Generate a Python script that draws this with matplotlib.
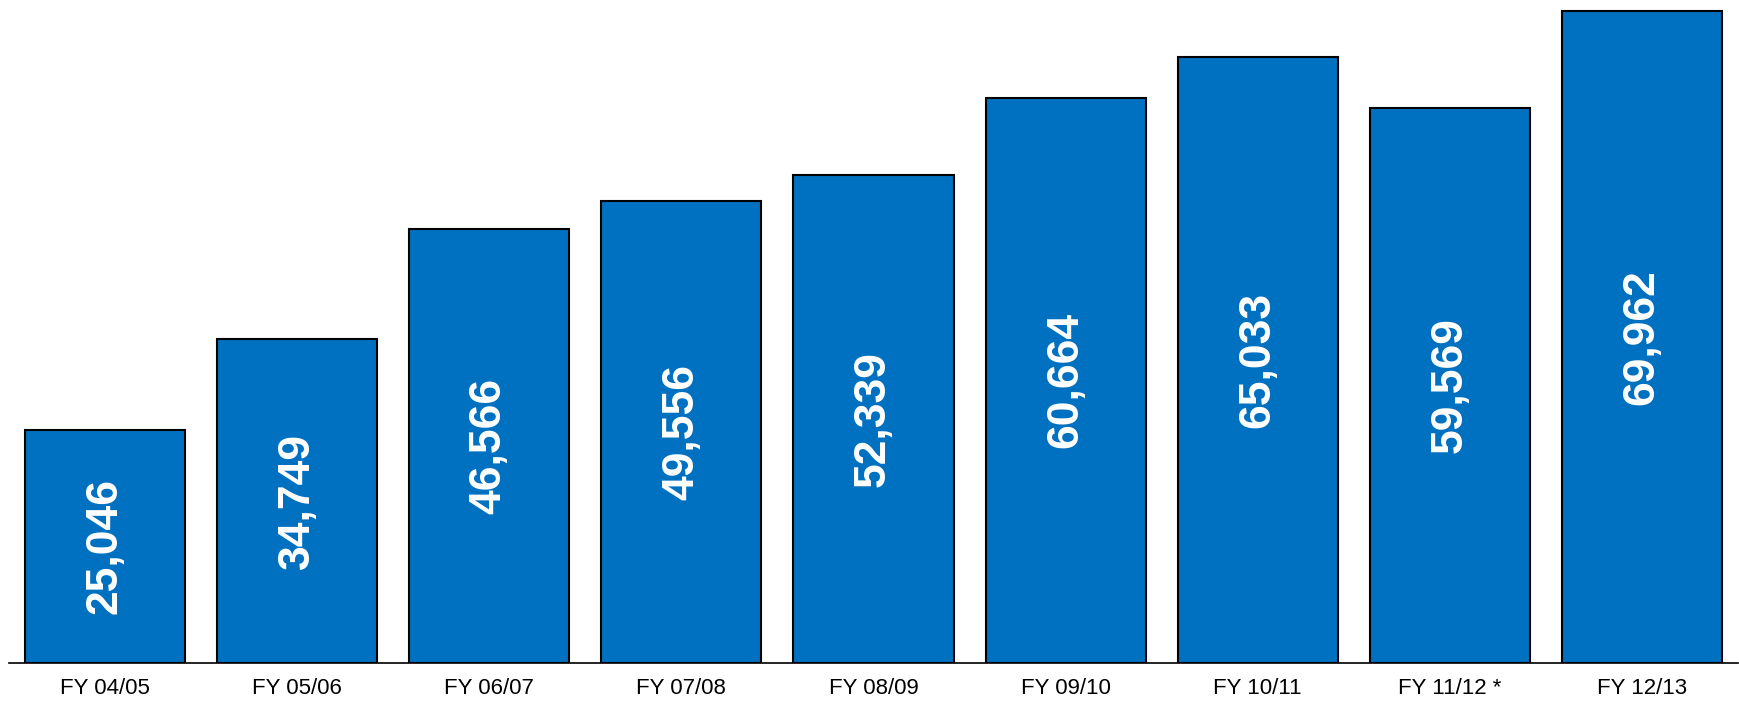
import matplotlib
matplotlib.use("Agg")
import matplotlib.pyplot as plt

categories = ["FY 04/05", "FY 05/06", "FY 06/07", "FY 07/08", "FY 08/09",
              "FY 09/10", "FY 10/11", "FY 11/12 *", "FY 12/13"]
values = [25046, 34749, 46566, 49556, 52339, 60664, 65033, 59569, 69962]

plt.rcParams['font.family'] = ['Liberation Sans', 'DejaVu Sans']

fig = plt.figure(figsize=(17.39, 7.01), dpi=100)
ax = fig.add_axes([9/1739, 38/701, 1729/1739, 663/701])

x = list(range(len(categories)))
bars = ax.bar(x, values, width=0.833, color="#0070C0", edgecolor="black", linewidth=1.5)

for xi, v in zip(x, values):
    ax.text(xi, v / 2, f"{v:,}", rotation=90, ha="center", va="center",
            color="white", fontsize=32, fontweight="bold")

ax.set_xlim(-0.5, len(categories) - 0.5)
ax.set_ylim(0, max(values) * 663 / 652)
ax.set_xticks(x)
ax.set_xticklabels(categories, fontsize=16)
ax.tick_params(axis="x", length=0, pad=11)
ax.set_yticks([])
for s in ["top", "left", "right"]:
    ax.spines[s].set_visible(False)
ax.spines["bottom"].set_linewidth(1.2)

fig.savefig("out.png", dpi=100)
